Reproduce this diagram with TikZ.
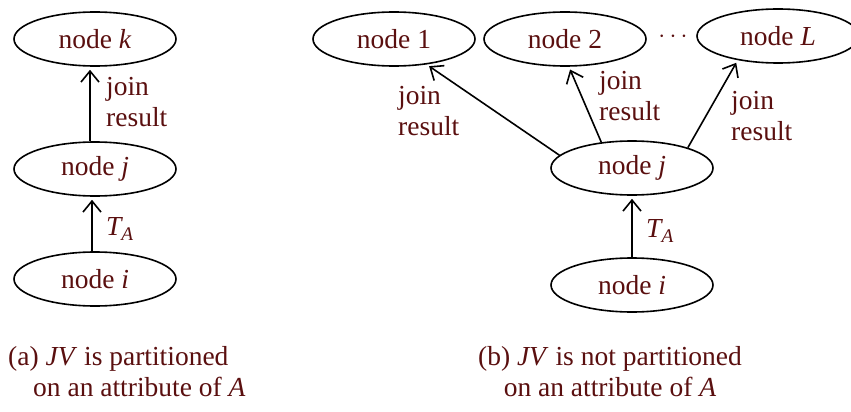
\documentclass[tikz,border=0pt]{standalone}
\usepackage{fontspec}
\setmainfont{Liberation Serif}
\usetikzlibrary{arrows.meta,shapes.geometric}
\definecolor{txt}{RGB}{90,15,15}
\begin{document}
\begin{tikzpicture}[x=1pt,y=-1pt,
  every node/.style={font=\fontsize{27.5}{31}\selectfont, text=txt},
  nd/.style={draw=black, line width=1.6pt, ellipse, minimum width=162pt, minimum height=54pt, inner sep=0pt},
  lbl/.style={align=left, anchor=west, inner sep=0pt},
  arr/.style={draw=black, line width=1.6pt, -{Straight Barb[length=11pt,width=18pt,line width=1.6pt]}, shorten >=3pt}
]
\useasboundingbox (0,0) rectangle (851,412);
% (a)
\node[nd] (ak) at (95,39) {node \textit{k}};
\node[nd] (aj) at (95,169) {node \textit{j}};
\node[nd] (ai) at (95,279) {node \textit{i}};
\draw[arr] ([xshift=-5pt]aj.north) -- ([xshift=-5pt]ak.south);
\draw[arr] ([xshift=-3pt]ai.north) -- ([xshift=-3pt]aj.south);
\node[lbl] (al1) at (106,102) {join\\result};
\node[lbl] (al2) at (106,229) {\textit{T\textsubscript{A}}};
% (b)
\node[nd] (b1) at (394,39) {node 1};
\node[nd] (b2) at (565,39) {node 2};
\node (dots) at (673,37) {$\mathbf{\cdots}$};
\node[nd] (bL) at (778,36) {node \textit{L}};
\node[nd] (bj) at (632,168) {node \textit{j}};
\node[nd] (bi) at (632,285) {node \textit{i}};
\draw[arr] (bj.170) -- (b1.-38);
\draw[arr] (bj.140) -- (b2.-82);
\draw[arr] (bj.20) -- (bL.-149);
\draw[arr] (bi.north) -- (bj.south);
\node[lbl] (bl1) at (398,111) {join\\result};
\node[lbl] (bl2) at (599,96) {join\\result};
\node[lbl] (bl3) at (731,116) {join\\result};
\node[lbl] (bl4) at (646,231) {\textit{T\textsubscript{A}}};
% captions
\node[lbl] (capa) at (8,372) {(a) \textit{JV} is partitioned\\\hspace*{25pt}on an attribute of \textit{A}};
\node[align=center, inner sep=0pt] (capb) at (610,372) {(b) \textit{JV} is not partitioned\\on an attribute of \textit{A}};
\end{tikzpicture}
\end{document}
